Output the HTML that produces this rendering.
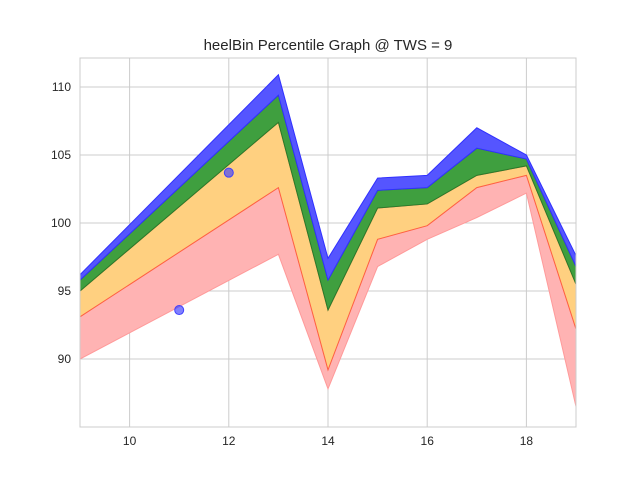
<!DOCTYPE html>
<html><head><meta charset="utf-8"><style>
body{margin:0;background:#fff;}
svg{display:block;font-family:"Liberation Sans","DejaVu Sans",sans-serif;}
</style></head><body>
<svg id="chart" width="640" height="480">
<text x="328" y="50" text-anchor="middle" font-size="15" fill="#262626">heelBin Percentile Graph @ TWS = 9</text>
<g id="grid"></g><g id="bands"></g><g id="axes"></g>
</svg>
<script>
const xs=[9,13,14,15,16,17,18,19];
const pBottom=[90,97.7,87.8,96.8,98.8,100.4,102.2,86.5];
const pRed=[93.1,102.6,89.2,98.8,99.8,102.6,103.5,92.2];
const pOrange=[95,107.4,93.6,101.1,101.4,103.5,104.2,95.5];
const pGreen=[95.8,109.4,95.8,102.4,102.6,105.5,104.7,96.8];
const pBlue=[96.2,110.9,97.4,103.3,103.5,107,105,97.6];
const dotX=[11,12];
const dotY=[93.6,103.7];
const xTicks=[10,12,14,16,18];
const yTicks=[90,95,100,105,110];
const L=80,R=576,T=58,B=427,xmin=9,xmax=19,ymin=85.0,ymax=112.13;
const sx=v=>L+(v-xmin)/(xmax-xmin)*(R-L);
const sy=v=>B-(v-ymin)/(ymax-ymin)*(B-T);
const NS='http://www.w3.org/2000/svg';
function mk(tag,parent,attrs){const e=document.createElementNS(NS,tag);for(const k in attrs)e.setAttribute(k,attrs[k]);document.getElementById(parent).appendChild(e);return e;}
const bg=mk('rect','grid',{x:L,y:T,width:R-L,height:B-T,fill:'#fff'});


xTicks.forEach(t=>{const l=mk('line','grid',{x1:sx(t),x2:sx(t),y1:T,y2:B,stroke:'#cccccc','stroke-width':1});


const tx=mk('text','axes',{x:sx(t),y:B+18,'text-anchor':'middle','font-size':12,fill:'#262626'});tx.textContent=t;

});
yTicks.forEach(t=>{const l=mk('line','grid',{x1:L,x2:R,y1:sy(t),y2:sy(t),stroke:'#cccccc','stroke-width':1});


const tx=mk('text','axes',{x:L-9,y:sy(t)+4,'text-anchor':'end','font-size':12,fill:'#262626'});tx.textContent=t;

});
function band(lo,hi,fill,stroke,name){const pts=xs.map((x,i)=>sx(x)+','+sy(hi[i])).concat(xs.slice().reverse().map((x,j)=>{const i=xs.length-1-j;return sx(x)+','+sy(lo[i]);}));
const p=mk('polygon','bands',{points:pts.join(' '),fill:fill,stroke:stroke,'stroke-width':1});

}
band(pBottom,pRed,'#ffb3b3','#ff9a9a','band-red');
band(pRed,pOrange,'#ffd080','#ff6040','band-orange');
band(pOrange,pGreen,'#3f9f3f','#2a7a2a','band-green');
band(pGreen,pBlue,'#5555ff','#3030ff','band-blue');
dotX.forEach((x,i)=>{const c=mk('circle','bands',{cx:sx(x),cy:sy(dotY[i]),r:4.5,fill:'rgba(60,60,255,0.65)',stroke:'#4040ff'});

});
const fr=mk('rect','axes',{x:L,y:T,width:R-L,height:B-T,fill:'none',stroke:'#cccccc','stroke-width':1});


</script>
</body></html>
